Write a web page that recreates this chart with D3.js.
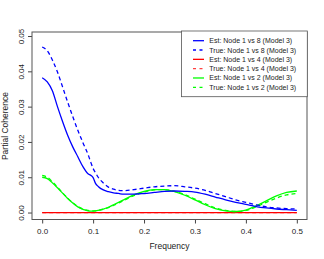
<!DOCTYPE html>
<html>
<head>
<meta charset="utf-8">
<script src="https://cdn.jsdelivr.net/npm/d3@7"></script>
<style>
  body { margin: 0; background: #fff; }
  text { font-family: "Liberation Sans", Arial, sans-serif; fill: #222; }
</style>
</head>
<body>
<div id="plot"></div>
<script>
var freq = [0, 0.01, 0.02, 0.03, 0.04, 0.05, 0.06, 0.07, 0.08, 0.09, 0.096, 0.1, 0.105, 0.11, 0.12, 0.13, 0.14, 0.15, 0.16, 0.18,
            0.2, 0.22, 0.24, 0.26, 0.28, 0.3, 0.32, 0.34, 0.36, 0.38, 0.4, 0.42, 0.44, 0.46, 0.48, 0.5];

var est18 = [0.0382, 0.0370, 0.0345, 0.0300, 0.0258, 0.0219, 0.0186, 0.0158, 0.0130, 0.0110, 0.0105, 0.0099, 0.0082, 0.0074, 0.0064, 0.0059, 0.0056, 0.0054, 0.0052, 0.0052,
             0.0054, 0.0057, 0.0060, 0.0061, 0.0060, 0.0058, 0.0052, 0.0044, 0.0036, 0.0029, 0.0023, 0.0017, 0.0013, 0.0010, 0.0008, 0.0006];
var true18 = [0.0469, 0.0458, 0.0432, 0.0398, 0.0356, 0.0313, 0.0272, 0.0233, 0.0198, 0.0165, 0.0140, 0.0125, 0.0112, 0.0100, 0.0084, 0.0072, 0.0066, 0.0063, 0.0062, 0.0065,
              0.0069, 0.0073, 0.0075, 0.0076, 0.0073, 0.0069, 0.0063, 0.0054, 0.0045, 0.0036, 0.0029, 0.0022, 0.0016, 0.0013, 0.0011, 0.0010];
var est14 = [0, 0, 0, 0, 0, 0, 0, 0, 0, 0, 0, 0, 0, 0, 0, 0, 0, 0, 0, 0,
             0, 0, 0, 0, 0, 0, 0, 0, 0, 0, 0, 0, 0, 0, 0, 0];
var true14 = [0, 0, 0, 0, 0, 0, 0, 0, 0, 0, 0, 0, 0, 0, 0, 0, 0, 0, 0, 0,
              0, 0, 0, 0, 0, 0, 0, 0, 0, 0, 0, 0, 0, 0, 0, 0];
var est12 = [0.0100, 0.0096, 0.0084, 0.0070, 0.0055, 0.0040, 0.0027, 0.0016, 0.0009, 0.0005, 0.0004, 0.0004, 0.0005, 0.0006, 0.0010, 0.0015, 0.0022, 0.0029, 0.0036, 0.0050,
             0.0060, 0.0065, 0.0065, 0.0059, 0.0049, 0.0036, 0.0022, 0.0011, 0.0005, 0.0003, 0.0007, 0.0019, 0.0033, 0.0047, 0.0057, 0.0061];
var true12 = [0.0105, 0.0100, 0.0087, 0.0072, 0.0056, 0.0041, 0.0028, 0.0017, 0.0010, 0.0006, 0.0005, 0.0005, 0.0005, 0.0006, 0.0009, 0.0014, 0.0020, 0.0027, 0.0034, 0.0048,
              0.0058, 0.0064, 0.0065, 0.0060, 0.0051, 0.0038, 0.0025, 0.0013, 0.0006, 0.0003, 0.0006, 0.0016, 0.0029, 0.0041, 0.0050, 0.0054];

var xTicks = [0, 0.1, 0.2, 0.3, 0.4, 0.5];
var yTicks = [0, 0.01, 0.02, 0.03, 0.04, 0.05];

var series = [
    {label: "Est: Node 1 vs 8 (Model 3)", values: est18, color: "#0000ff", dash: null},
    {label: "True: Node 1 vs 8 (Model 3)", values: true18, color: "#0000ff", dash: "4,3"},
    {label: "Est: Node 1 vs 4 (Model 3)", values: est14, color: "#ff0000", dash: null},
    {label: "True: Node 1 vs 4 (Model 3)", values: true14, color: "#ff4040", dash: "4,3"},
    {label: "Est: Node 1 vs 2 (Model 3)", values: est12, color: "#00ff00", dash: null},
    {label: "True: Node 1 vs 2 (Model 3)", values: true12, color: "#00ff00", dash: "4,3"}
];

drawChart();

function drawChart() {
    var width = 324, height = 259;
    var pLeft = 32, pRight = 307, pTop = 32, pBottom = 219.5;

    var svg = d3.select("#plot").append("svg").attr("width", width).attr("height", height);

    var xScale = d3.scaleLinear().domain([-0.02, 0.52]).range([pLeft, pRight]);
    var yScale = d3.scaleLinear().domain([-0.00197, 0.05114]).range([pBottom, pTop]);

    // x axis
    var xAxis = svg.append("g")
        .attr("transform", "translate(0," + pBottom + ")")
        .call(d3.axisBottom(xScale).tickValues(xTicks).tickSize(4).tickSizeOuter(0).tickFormat(d3.format(".1f")));
    xAxis.select(".domain").remove();
    xAxis.selectAll("line").attr("stroke", "#444");
    xAxis.selectAll("text").attr("font-size", "8px").attr("dy", null).attr("y", 14.5).style("fill", "#222");

    // y axis
    var yAxis = svg.append("g")
        .attr("transform", "translate(" + pLeft + ",0)")
        .call(d3.axisLeft(yScale).tickValues(yTicks).tickSize(4).tickSizeOuter(0).tickFormat(d3.format(".2f")));
    yAxis.select(".domain").remove();
    yAxis.selectAll("line").attr("stroke", "#444");
    yAxis.selectAll("text")
        .attr("font-size", "8px")
        .attr("x", null).attr("dy", null)
        .attr("text-anchor", "middle")
        .attr("transform", "translate(-8.5,0) rotate(-90)")
        .style("fill", "#222");

    svg.append("rect")
        .attr("x", pLeft).attr("y", pTop)
        .attr("width", pRight - pLeft).attr("height", pBottom - pTop)
        .attr("fill", "none").attr("stroke", "#555").attr("stroke-width", 1);

    var line = d3.line()
        .x(function(d, i) { return xScale(freq[i]); })
        .y(function(d) { return yScale(d); })
        .curve(d3.curveMonotoneX);

    // red underneath, then green, then blue
    [3, 2, 5, 4, 1, 0].forEach(function(k) {
        var s = series[k];
        svg.append("path")
            .attr("d", line(s.values))
            .attr("fill", "none")
            .attr("stroke", s.color)
            .attr("stroke-width", 1.3)
            .attr("stroke-dasharray", s.dash);
    });

    // axis titles
    svg.append("text")
        .attr("x", xScale(0.25)).attr("y", 249)
        .attr("text-anchor", "middle").attr("font-size", "8.5px")
        .text("Frequency");
    svg.append("text")
        .attr("transform", "translate(8," + yScale(0.0245) + ") rotate(-90)")
        .attr("text-anchor", "middle").attr("font-size", "8.5px")
        .text("Partial Coherence");

    // legend
    var lg = svg.append("g");
    lg.append("rect")
        .attr("x", 181.5).attr("y", 31)
        .attr("width", 307.3 - 181.5).attr("height", 96.7 - 31)
        .attr("fill", "#fff").attr("stroke", "#555").attr("stroke-width", 0.8);
    series.forEach(function(s, i) {
        var yy = 40.7 + i * 9.32;
        lg.append("line")
            .attr("x1", 193).attr("x2", 204)
            .attr("y1", yy).attr("y2", yy)
            .attr("stroke", s.color).attr("stroke-width", 1.3)
            .attr("stroke-dasharray", s.dash ? "3,3.5" : null);
        lg.append("text")
            .attr("x", 209.3).attr("y", yy + 2.5)
            .attr("font-size", "7px")
            .text(s.label);
    });
}
</script>
</body>
</html>
